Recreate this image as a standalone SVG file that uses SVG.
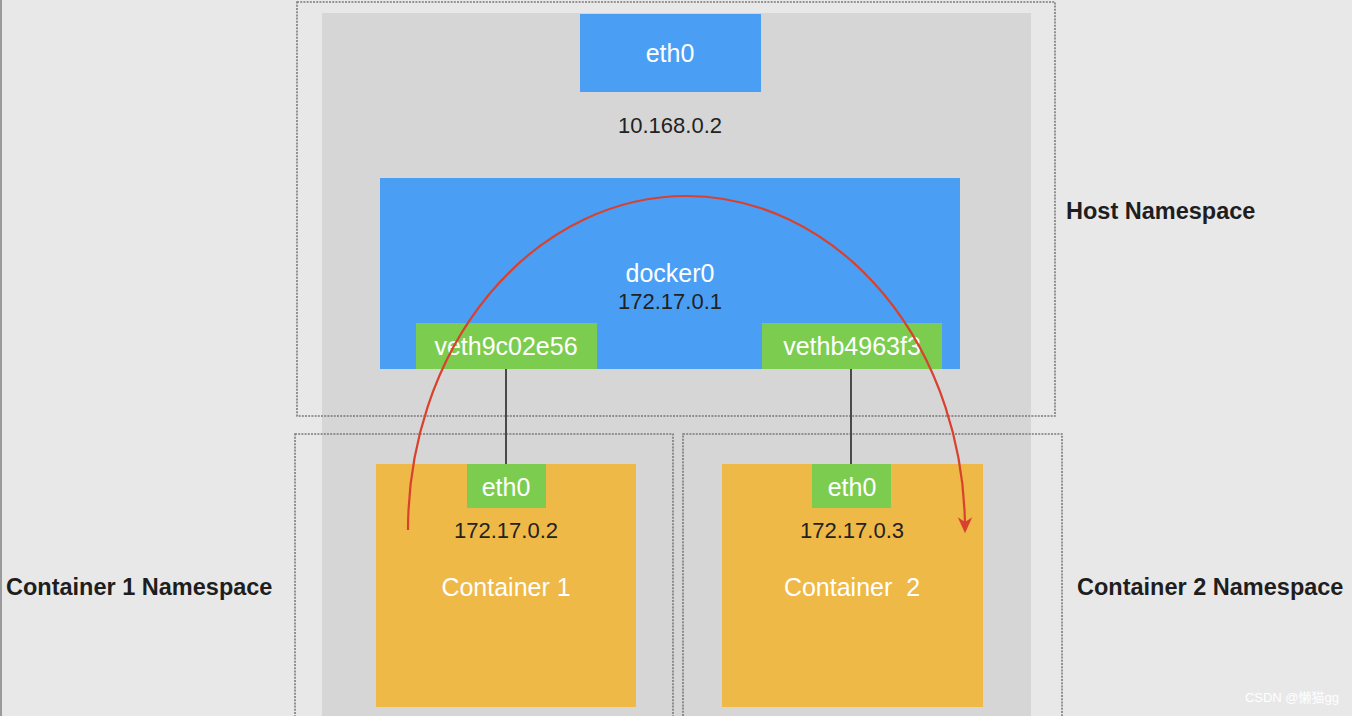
<svg xmlns="http://www.w3.org/2000/svg" width="1352" height="716" viewBox="0 0 1352 716">
<defs>
<style>
.ns{fill:none;stroke:#7a7a7a;stroke-width:1.6;stroke-dasharray:2 1.2}
.blue{fill:#4a9ff5}
.green{fill:#7ccd4f}
.yellow{fill:#eeb947}
.wt{font-family:"Liberation Sans",Arial,sans-serif;fill:#ffffff;text-anchor:middle;font-size:25px}
.dt{font-family:"Liberation Sans",Arial,sans-serif;fill:#222;text-anchor:middle;font-size:22px}
.lbl{font-family:"Liberation Sans",Arial,sans-serif;fill:#1e1e1e;font-weight:bold;font-size:23.5px}
.link{stroke:#4a4a4a;stroke-width:2;fill:none}
</style>
<marker id="ah" viewBox="0 0 10 10" refX="8" refY="5" markerWidth="18" markerHeight="16" orient="auto" markerUnits="userSpaceOnUse">
<path d="M0,0.5 L10,5 L0,9.5 L3,5 Z" fill="#d9412f"/>
</marker>
</defs>
<rect x="0" y="0" width="1352" height="716" fill="#e8e8e8"/>
<line x1="1" y1="0" x2="1" y2="716" stroke="#9a9a9a" stroke-width="2"/>
<rect x="322" y="13" width="709" height="703" fill="#d6d6d6"/>

<g id="host-namespace">
<rect class="ns" x="297" y="2" width="758" height="414"/>
<text class="lbl" x="1066" y="219">Host Namespace</text>
</g>
<g id="container1-namespace">
<rect class="ns" x="295" y="434" width="378" height="290"/>
<text class="lbl" x="6" y="595">Container 1 Namespace</text>
</g>
<g id="container2-namespace">
<rect class="ns" x="683" y="434" width="379" height="290"/>
<text class="lbl" x="1077" y="595">Container 2 Namespace</text>
</g>

<g id="host-eth0">
<rect class="blue" x="580" y="14" width="181" height="78"/>
<text class="wt" x="670" y="62">eth0</text>
<text class="dt" x="670" y="133">10.168.0.2</text>
</g>
<g id="docker0">
<rect class="blue" x="380" y="178" width="580" height="191"/>
<text class="wt" x="670" y="282">docker0</text>
<text class="dt" x="670" y="309">172.17.0.1</text>
</g>

<g id="container1">
<rect class="yellow" x="376" y="464" width="260" height="243"/>
<text class="dt" x="506" y="538">172.17.0.2</text>
<text class="wt" x="506" y="596">Container 1</text>
</g>
<g id="container2">
<rect class="yellow" x="722" y="464" width="261" height="243"/>
<text class="dt" x="852" y="538">172.17.0.3</text>
<text class="wt" x="852" y="596" xml:space="preserve">Container  2</text>
</g>

<g id="connectors">
<line class="link" x1="506" y1="369" x2="506" y2="464"/>
<line class="link" x1="851" y1="369" x2="851" y2="464"/>
</g>

<g id="veth9c02e56">
<rect class="green" x="416" y="323" width="181" height="46"/>
<text class="wt" x="506" y="355">veth9c02e56</text>
</g>
<g id="vethb4963f3">
<rect class="green" x="762" y="323" width="180" height="46"/>
<text class="wt" x="852" y="355">vethb4963f3</text>
</g>
<g id="c1-eth0">
<rect class="green" x="467" y="464" width="79" height="44"/>
<text class="wt" x="506" y="496">eth0</text>
</g>
<g id="c2-eth0">
<rect class="green" x="812" y="464" width="79" height="44"/>
<text class="wt" x="852" y="496">eth0</text>
</g>

<g id="flow">
<path d="M408,530 A278.5,334 0 0 1 965,530" fill="none" stroke="#d9412f" stroke-width="2.2" marker-end="url(#ah)"/>
</g>

<text x="1339" y="702" font-family="Liberation Sans,Arial,Noto Sans CJK SC,sans-serif" font-size="13" fill="#ffffff" text-anchor="end">CSDN @懒猫gg</text>
</svg>
